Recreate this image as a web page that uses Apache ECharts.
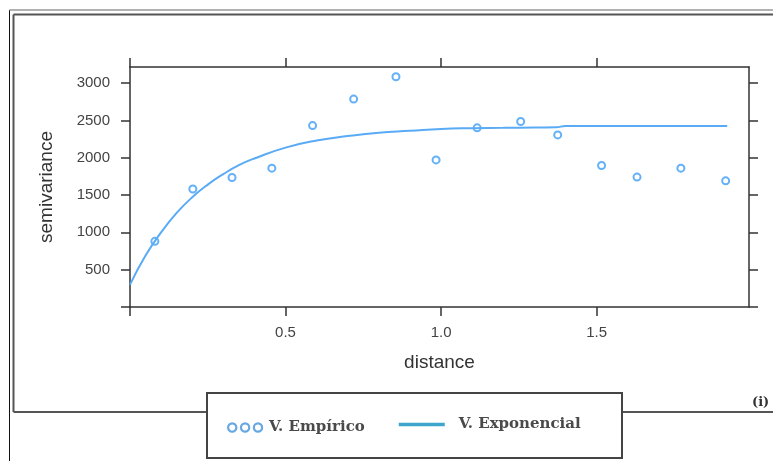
<!DOCTYPE html>
<html>
<head>
<meta charset="utf-8">
<script src="https://cdn.jsdelivr.net/npm/echarts@6.0.0/dist/echarts.min.js"></script>
<style>
  html, body { margin: 0; padding: 0; background: #fff; }
  #chart { width: 773px; height: 461px; }
</style>
</head>
<body>
<div id="chart"></div>
<script>
// empirical semivariogram points
const empDist = [0.080, 0.202, 0.328, 0.456, 0.587, 0.719, 0.855, 0.984, 1.116, 1.256, 1.375, 1.516, 1.630, 1.771, 1.915];
const empVal = [880, 1580, 1735, 1860, 2430, 2785, 3085, 1970, 2400, 2485, 2305, 1895, 1740, 1860, 1690];

// fitted exponential model
const curveDist = [0, 0.05, 0.1, 0.15, 0.2, 0.25, 0.3, 0.35, 0.4, 0.5, 0.6, 0.7, 0.8, 0.9, 1.0, 1.1, 1.2, 1.3, 1.37, 1.40, 1.6, 1.8, 1.92];
const curveVal = [300, 690, 1000, 1260, 1470, 1640, 1780, 1900, 1990, 2135, 2230, 2290, 2335, 2360, 2385, 2395, 2400, 2405, 2407, 2425, 2425, 2425, 2425];

// axis ticks
const xTicks = [0, 0.5, 1.0, 1.5];
const xLabels = [0.5, 1.0, 1.5];
const yTicks = [0, 500, 1000, 1500, 2000, 2500, 3000];
const yLabels = [500, 1000, 1500, 2000, 2500, 3000];

const empName = 'V. Empírico';
const expName = 'V. Exponencial';

const axisColor = '#333';
const labelStyle = { color: '#444', fontSize: 15, fontFamily: 'Liberation Sans' };
const legendText = { fontFamily: 'DejaVu Serif', fontSize: 15, fontWeight: 'bold', color: '#4a4a4a' };

function frameAxis(extra) {
  return Object.assign({
    type: 'value',
    axisLine: { show: true, onZero: false, lineStyle: { color: axisColor, width: 1.5 } },
    splitLine: { show: false }
  }, extra);
}

const chart = echarts.init(document.getElementById('chart'));
chart.setOption({
  animation: false,
  grid: { left: 130, top: 67, width: 619, height: 240, containLabel: false },
  xAxis: [
    frameAxis({
      position: 'bottom', min: 0, max: 1.99,
      axisTick: { show: true, inside: false, length: 9, customValues: xTicks, lineStyle: { color: axisColor, width: 1.5 } },
      axisLabel: Object.assign({ customValues: xLabels, margin: 18, formatter: v => v.toFixed(1) }, labelStyle),
      name: 'distance', nameLocation: 'middle', nameGap: 46,
      nameTextStyle: { fontSize: 19, color: '#333', fontFamily: 'Liberation Sans' }
    }),
    frameAxis({
      position: 'top', min: 0, max: 1.99,
      axisTick: { show: true, inside: false, length: 9, customValues: xTicks, lineStyle: { color: axisColor, width: 1.5 } },
      axisLabel: { show: false }
    })
  ],
  yAxis: [
    frameAxis({
      position: 'left', min: 0, max: 3215,
      axisTick: { show: true, inside: false, length: 9, customValues: yTicks, lineStyle: { color: axisColor, width: 1.5 } },
      axisLabel: Object.assign({ customValues: yLabels, margin: 20, formatter: v => String(v) }, labelStyle),
      name: 'semivariance', nameLocation: 'middle', nameGap: 74,
      nameTextStyle: { fontSize: 19, color: '#333', fontFamily: 'Liberation Sans' }
    }),
    frameAxis({
      position: 'right', min: 0, max: 3215,
      axisTick: { show: true, inside: false, length: 9, customValues: yTicks, lineStyle: { color: axisColor, width: 1.5 } },
      axisLabel: { show: false }
    })
  ],
  legend: [
    {
      left: 227, top: 420, itemWidth: 34, itemHeight: 9, itemGap: 0, padding: 0,
      textStyle: Object.assign({ padding: [0, 0, 0, 2] }, legendText),
      data: [{
        name: empName,
        icon: 'path://M0.5,4.5a4,4 0 1,0 8,0a4,4 0 1,0 -8,0Z M13,4.5a4,4 0 1,0 8,0a4,4 0 1,0 -8,0Z M25.5,4.5a4,4 0 1,0 8,0a4,4 0 1,0 -8,0Z',
        itemStyle: { color: 'rgba(0,0,0,0)', borderColor: '#3f92dc', borderWidth: 2.2 }
      }]
    },
    {
      left: 397, top: 417, itemWidth: 46, itemHeight: 8, itemGap: 0, padding: 0,
      textStyle: Object.assign({ padding: [0, 0, 0, 9] }, legendText),
      data: [{
        name: expName,
        lineStyle: { color: '#3ea6cc', width: 3.5 },
        itemStyle: { color: 'rgba(0,0,0,0)', borderWidth: 0, opacity: 0 }
      }]
    }
  ],
  graphic: [
    // outer page frame
    { type: 'line', shape: { x1: 9.5, y1: 10, x2: 9.5, y2: 461 }, style: { stroke: '#111', lineWidth: 1 }, silent: true },
    { type: 'line', shape: { x1: 9.5, y1: 10, x2: 773, y2: 10 }, style: { stroke: '#999', lineWidth: 1.5 }, silent: true },
    // inner panel frame
    { type: 'line', shape: { x1: 13.5, y1: 14.5, x2: 773, y2: 14.5 }, style: { stroke: '#555', lineWidth: 2 }, silent: true },
    { type: 'line', shape: { x1: 13.5, y1: 14.5, x2: 13.5, y2: 412 }, style: { stroke: '#555', lineWidth: 2 }, silent: true },
    { type: 'line', shape: { x1: 13.5, y1: 412, x2: 207, y2: 412 }, style: { stroke: '#555', lineWidth: 2 }, silent: true },
    { type: 'line', shape: { x1: 622, y1: 412, x2: 773, y2: 412 }, style: { stroke: '#555', lineWidth: 2 }, silent: true },
    // legend box
    { type: 'rect', z: 1, shape: { x: 207, y: 393, width: 415, height: 65 }, style: { fill: '#fff', stroke: '#444', lineWidth: 2 }, silent: true },
    { type: 'text', left: 752, top: 396, style: { text: '(i)', fontSize: 13, fontWeight: 'bold', fill: '#333', fontFamily: 'DejaVu Serif' }, silent: true }
  ],
  series: [
    {
      name: empName,
      type: 'scatter',
      symbol: 'emptyCircle',
      symbolSize: 7,
      itemStyle: { color: '#3d9df5', borderWidth: 1.8 },
      data: empDist.map((d, i) => [d, empVal[i]])
    },
    {
      name: expName,
      type: 'line',
      symbol: 'none',
      showSymbol: false,
      smooth: 0.5,
      lineStyle: { color: '#5aabf6', width: 2 },
      data: curveDist.map((d, i) => [d, curveVal[i]])
    }
  ]
});
</script>
</body>
</html>
